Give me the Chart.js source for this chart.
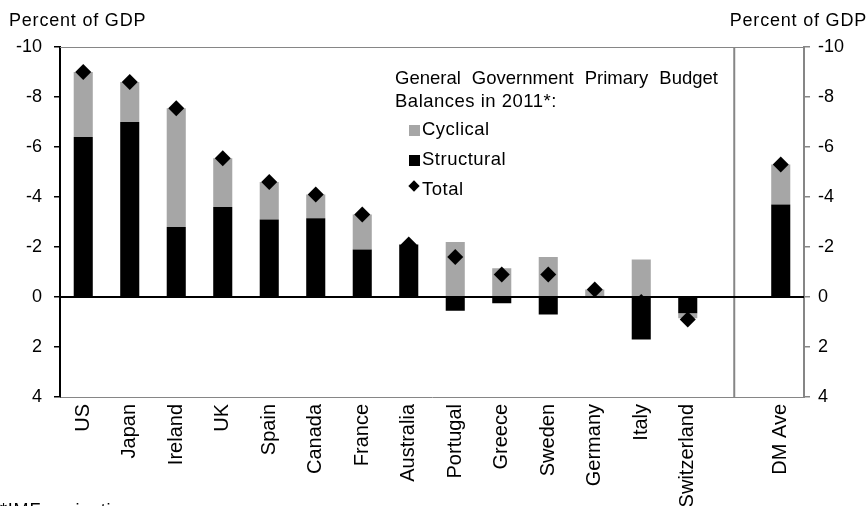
<!DOCTYPE html>
<html>
<head>
<meta charset="utf-8">
<script src="https://cdn.jsdelivr.net/npm/chart.js@4.4.1/dist/chart.umd.min.js"></script>
<style>
  html, body { margin: 0; padding: 0; background: #fff; }
  body { width: 868px; height: 506px; overflow: hidden; position: relative;
         font-family: "Liberation Sans", Arial, sans-serif; color: #000; }
  #wrap { position: absolute; left: 0; top: 0; width: 868px; height: 506px; }
  .t { position: absolute; font-size: 18px; line-height: 18px; white-space: nowrap; letter-spacing: 0.8px; }
  .lg { position: absolute; font-size: 18.5px; line-height: 18.5px; white-space: nowrap; letter-spacing: 0.5px; }
  .sq { position: absolute; width: 11px; height: 11px; }
  .dm { position: absolute; width: 8px; height: 8px; background: #000; transform: rotate(45deg); }
</style>
</head>
<body>
<div id="wrap"><canvas id="c" width="868" height="506"></canvas></div>

<div class="t" style="left:9px; top:11px;">Percent of GDP</div>
<div class="t" style="right:1px; top:11px;">Percent of GDP</div>

<div class="lg" style="left:395px; top:69px; width:323px; text-align:justify; text-align-last:justify; letter-spacing:0;">General Government Primary Budget</div>
<div class="lg" style="left:395px; top:92px;">Balances in 2011*:</div>
<div class="sq" style="left:409px; top:125px; background:#a6a6a6;"></div>
<div class="lg" style="left:422px; top:120px;">Cyclical</div>
<div class="sq" style="left:409px; top:155px; background:#000;"></div>
<div class="lg" style="left:422px; top:150px;">Structural</div>
<div class="dm" style="left:410px; top:182px;"></div>
<div class="lg" style="left:422px; top:180px;">Total</div>

<div class="t" style="left:0px; top:501px;">*IMF projections</div>

<script>
// data (percent of GDP, negative = deficit)
const categories = ["US", "Japan", "Ireland", "UK", "Spain", "Canada", "France", "Australia",
                    "Portugal", "Greece", "Sweden", "Germany", "Italy", "Switzerland", "", "DM Ave"];
const structural = [-6.4, -7.0, -2.8, -3.6, -3.1, -3.15, -1.9, -2.1, 0.55, 0.25, 0.7, 0, 1.7, 0.65, null, -3.7];
const cyclical   = [-2.6, -1.6, -4.75, -1.95, -1.5, -0.95, -1.4, 0, -2.2, -1.15, -1.6, -0.3, -1.5, 0.2, null, -1.6];
const total      = [-9.0, -8.6, -7.55, -5.55, -4.6, -4.1, -3.3, -2.1, -1.6, -0.9, -0.9, -0.3, 0.2, 0.9, null, -5.3];
const yTicks     = [-10, -8, -6, -4, -2, 0, 2, 4];
const SEP_INDEX  = 14; // empty slot holding the separator line

const GREY_BAR  = "#a6a6a6";
const GREY_LINE = "#868686";
const FONT   = { family: "'Liberation Sans', Arial, sans-serif", size: 18 };
const FONT_X = { family: "'Liberation Sans', Arial, sans-serif", size: 20 };

// zero line, separator and top frame
const framePlugin = {
  id: "frame",
  afterDatasetsDraw(chart) {
    const { ctx, chartArea: a, scales } = chart;
    ctx.save();
    ctx.strokeStyle = GREY_LINE;
    ctx.lineWidth = 1;
    ctx.beginPath();
    ctx.moveTo(a.left, a.top + 0.5);
    ctx.lineTo(a.right, a.top + 0.5);
    ctx.stroke();

    const sx = scales.x.getPixelForValue(SEP_INDEX);
    ctx.lineWidth = 2;
    ctx.beginPath();
    ctx.moveTo(sx, a.top);
    ctx.lineTo(sx, a.bottom);
    ctx.stroke();

    const zy = scales.y.getPixelForValue(0);
    ctx.strokeStyle = "#000";
    ctx.lineWidth = 2;
    ctx.beginPath();
    ctx.moveTo(a.left, zy);
    ctx.lineTo(a.right, zy);
    ctx.stroke();
    ctx.restore();
  }
};

const yCommon = {
  min: -10, max: 4, reverse: true,
  afterBuildTicks: s => { s.ticks = yTicks.map(v => ({ value: v })); },
};

new Chart(document.getElementById("c"), {
  data: {
    labels: categories,
    datasets: [
      { type: "bar", label: "Structural", data: structural, backgroundColor: "#000",
        stack: "bars", order: 1, categoryPercentage: 1, barPercentage: 0.41 },
      { type: "bar", label: "Cyclical", data: cyclical, backgroundColor: GREY_BAR,
        stack: "bars", order: 1, categoryPercentage: 1, barPercentage: 0.41 },
      { type: "line", label: "Total", data: total, showLine: false, stack: "line", order: 0,
        pointStyle: "rectRot", pointRadius: 8, pointHoverRadius: 8,
        backgroundColor: "#000", borderColor: "#000", borderWidth: 0 }
    ]
  },
  options: {
    responsive: false, animation: false,
    layout: { padding: { top: 47, left: 0, right: 0, bottom: 0 } },
    plugins: { legend: { display: false }, tooltip: { enabled: false } },
    scales: {
      x: {
        stacked: true, offset: true,
        grid: { display: false, drawTicks: false },
        border: { display: true, color: GREY_LINE, width: 1 },
        ticks: { autoSkip: false, maxRotation: 90, minRotation: 90, padding: 7, color: "#000", font: FONT_X },
        afterFit: s => { s.height = 109; }
      },
      y: Object.assign({}, yCommon, {
        stacked: true, position: "left",
        grid: { drawOnChartArea: false, drawTicks: true, tickLength: 6, color: "#000", lineWidth: 1.5 },
        border: { display: true, color: "#000", width: 2 },
        ticks: { padding: 12, color: "#000", font: FONT },
        afterFit: s => { s.width = 60; }
      }),
      y2: Object.assign({}, yCommon, {
        position: "right",
        grid: { drawOnChartArea: false, drawTicks: true, tickLength: 6, color: GREY_LINE, lineWidth: 1.5 },
        border: { display: true, color: GREY_LINE, width: 2 },
        ticks: { padding: 8, color: "#000", font: FONT },
        afterFit: s => { s.width = 64; }
      })
    }
  },
  plugins: [framePlugin]
});
</script>
</body>
</html>
